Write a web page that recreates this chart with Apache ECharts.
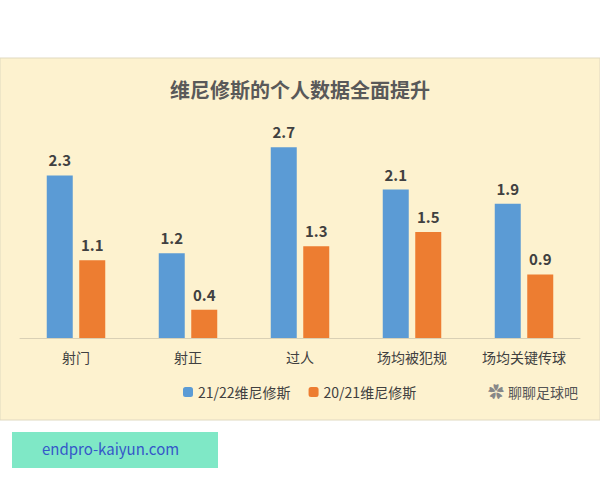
<!DOCTYPE html>
<html><head><meta charset="utf-8">
<script src="https://cdn.jsdelivr.net/npm/echarts@6/dist/echarts.min.js"></script>
<style>html,body{margin:0;background:#fff}#c{width:600px;height:480px}</style>
</head><body><div id="c"></div>
<script>
var categories = ['射门', '射正', '过人', '场均被犯规', '场均关键传球'];
var season2122 = [2.3, 1.2, 2.7, 2.1, 1.9];
var season2021 = [1.1, 0.4, 1.3, 1.5, 0.9];
var font = '"Noto Sans CJK SC", sans-serif';
var chart = echarts.init(document.getElementById('c'), null, { renderer: 'svg' });
var lbl = { show: true, position: 'top', fontWeight: 'bold', fontSize: 15, color: '#404040', fontFamily: font, distance: 8 };
chart.setOption({
  animation: false,
  graphic: [
    { type: 'rect', shape: { x: 0, y: 58, width: 600, height: 362 }, style: { fill: '#fdf2cf', stroke: '#e0d9c0' }, z: -10 },
    { type: 'rect', shape: { x: 12, y: 432, width: 206, height: 36 }, style: { fill: '#7fe8c6' } },
    { type: 'text', left: 42, top: 441, style: { text: 'endpro-kaiyun.com', fill: '#3557c9', font: '15px ' + font } },
    { type: 'text', left: 508, top: 385, style: { text: '聊聊足球吧', fill: '#555', font: '14px ' + font } },
    { type: 'text', left: 488, top: 383, style: { text: '✿', fill: '#888', font: '16px ' + font } }
  ],
  title: { text: '维尼修斯的个人数据全面提升', left: 'center', top: 74, textStyle: { fontSize: 20, fontWeight: 'bold', color: '#595959', fontFamily: font } },
  legend: { bottom: 76, left: 178, itemWidth: 10, itemHeight: 10, itemGap: 18, textStyle: { fontSize: 14, color: '#404040', fontFamily: font } },
  grid: { left: 20, right: 20, top: 126, bottom: 142 },
  xAxis: { type: 'category', data: categories, axisTick: { show: false }, axisLine: { lineStyle: { color: '#d9d0b5' } },
    axisLabel: { fontSize: 14, color: '#404040', margin: 12, fontFamily: font } },
  yAxis: { type: 'value', min: 0, max: 3, show: false, splitLine: { show: false } },
  series: [
    { name: '21/22维尼修斯', type: 'bar', data: season2122, barWidth: 26, barGap: '25%', itemStyle: { color: '#5b9bd5' }, label: lbl },
    { name: '20/21维尼修斯', type: 'bar', data: season2021, barWidth: 26, itemStyle: { color: '#ed7d31' }, label: lbl }
  ]
});
</script></body></html>
